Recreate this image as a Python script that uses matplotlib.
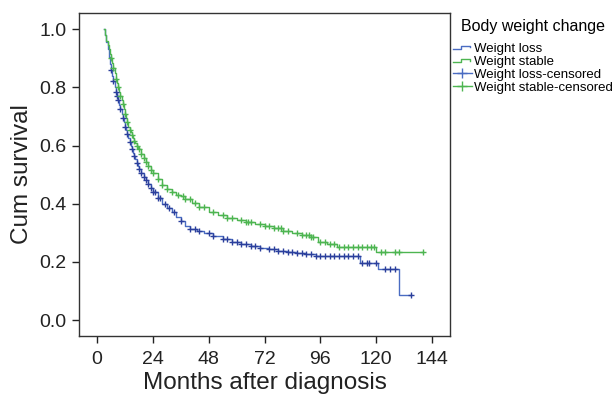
import numpy as np
import matplotlib
matplotlib.use('Agg')
import matplotlib.pyplot as plt
from matplotlib.lines import Line2D
from matplotlib.legend_handler import HandlerBase

plt.rcParams['font.family'] = ['Liberation Sans', 'DejaVu Sans']

# Kaplan-Meier step points (months, cumulative survival)
loss_t = [3, 3.5, 4, 4.5, 5, 5.5, 6, 6.5, 7, 7.5, 8, 8.5, 9, 9.5, 10, 10.5, 11, 11.5, 12,
          12.5, 13, 13.5, 14, 14.5, 15, 15.5, 16, 16.5, 17, 17.5, 18, 19, 20, 21, 22, 23,
          24, 26, 28, 30, 32, 34, 36, 38, 40, 43, 46, 50, 54, 58, 62, 66, 70, 74, 78, 82,
          86, 90, 94, 98, 113, 121, 130, 135]
loss_s = [1.0, 0.98, 0.955, 0.93, 0.905, 0.88, 0.86, 0.84, 0.82, 0.80, 0.785, 0.77, 0.755,
          0.74, 0.725, 0.71, 0.695, 0.68, 0.665, 0.652, 0.64, 0.625, 0.613, 0.60, 0.587,
          0.575, 0.563, 0.552, 0.541, 0.531, 0.521, 0.505, 0.492, 0.48, 0.468, 0.455, 0.44,
          0.42, 0.40, 0.385, 0.37, 0.355, 0.34, 0.325, 0.313, 0.305, 0.30, 0.29, 0.279,
          0.27, 0.262, 0.255, 0.249, 0.244, 0.238, 0.234, 0.23, 0.226, 0.222, 0.219, 0.196,
          0.175, 0.087, 0.087]

stable_t = [3, 3.5, 4, 4.5, 5, 5.5, 6, 6.5, 7, 7.5, 8, 8.5, 9, 9.5, 10, 10.5, 11, 11.5, 12,
            12.5, 13, 13.5, 14, 14.5, 15, 15.5, 16, 16.5, 17, 17.5, 18, 19, 20, 21, 22, 23,
            24, 26, 28, 30, 32, 34, 36, 38, 41, 44, 48, 52, 56, 60, 64, 68, 72, 76, 80, 84,
            88, 92, 95, 99, 103, 120, 140]
stable_s = [1.0, 0.98, 0.96, 0.945, 0.93, 0.915, 0.90, 0.882, 0.865, 0.848, 0.83, 0.815,
            0.80, 0.785, 0.77, 0.757, 0.742, 0.727, 0.71, 0.695, 0.68, 0.665, 0.655, 0.645,
            0.635, 0.625, 0.617, 0.608, 0.60, 0.593, 0.587, 0.572, 0.557, 0.542, 0.528,
            0.515, 0.505, 0.485, 0.465, 0.452, 0.44, 0.43, 0.425, 0.415, 0.402, 0.39, 0.373,
            0.362, 0.352, 0.345, 0.338, 0.33, 0.322, 0.316, 0.308, 0.300, 0.294, 0.286,
            0.27, 0.262, 0.253, 0.234, 0.234]

# censoring times (months)
loss_cens = [6, 7, 8, 8.5, 9, 10, 11, 12, 13, 14, 15, 16, 17, 18, 19, 20, 21, 22, 23, 24,
             25, 26, 27, 29, 31, 33, 36, 40, 42, 44, 48, 50, 54, 56, 58, 60, 62, 64, 66, 68,
             70, 74, 76, 78, 80, 82, 84, 86, 88, 90, 92, 94, 96, 98, 100, 102, 104, 106,
             108, 110, 112, 114, 116, 117, 120, 124, 126, 128, 135]
stable_cens = [6, 7, 8, 9, 10, 11, 12, 13, 14, 15, 16, 17, 18, 19, 20, 21, 22, 23, 24, 26,
               28, 30, 32, 35, 37, 38, 40, 42, 44, 46, 50, 54, 56, 58, 62, 64, 65, 66, 70,
               72, 74, 76, 78, 79, 80, 82, 86, 88, 90, 91, 92, 93, 96, 98, 100, 102, 104,
               106, 108, 110, 112, 114, 116, 118, 119, 122, 124, 128, 130, 140]

line_blue = '#4a6cc2'
mark_blue = '#2b3f9c'
green = '#4db551'


def step_value(t, s, c):
    idx = np.searchsorted(t, c, side='right') - 1
    return np.asarray(s)[idx]


class StepHandler(HandlerBase):
    def create_artists(self, legend, orig_handle, xdescent, ydescent, width, height,
                       fontsize, trans):
        x = np.array([0, 0.45, 0.45, 0.9, 0.9]) * width - xdescent
        y = np.array([0.3, 0.3, 0.65, 0.65, 0.45]) * height - ydescent
        ln = Line2D(x, y, color=orig_handle.get_color(), lw=1.0)
        ln.set_transform(trans)
        return [ln]


fig = plt.figure(figsize=(6.14, 3.97), dpi=100)
ax = fig.add_axes([0.129, 0.154, 0.604, 0.813])

h1, = ax.plot(loss_t, loss_s, drawstyle='steps-post', color=line_blue, lw=1.0)
h2, = ax.plot(stable_t, stable_s, drawstyle='steps-post', color=green, lw=1.0)
h3, = ax.plot(loss_cens, step_value(loss_t, loss_s, loss_cens), ls='none', marker='+',
              ms=4.5, mew=1.0, color=mark_blue)
h4, = ax.plot(stable_cens, step_value(stable_t, stable_s, stable_cens), ls='none',
              marker='+', ms=4.5, mew=1.0, color=green)

ax.set_xlim(-7.7, 151.8)
ax.set_ylim(-0.054, 1.055)
ax.set_xticks(range(0, 145, 24))
ax.set_yticks(np.arange(0, 1.01, 0.2))
ax.set_yticklabels(['%.1f' % v for v in np.arange(0, 1.01, 0.2)])
ax.tick_params(direction='out', length=5, width=1, labelsize=14, colors='#222222')
ax.tick_params(axis='x', pad=6)
ax.tick_params(axis='y', pad=4)
for sp in ax.spines.values():
    sp.set_color('#333333')
    sp.set_linewidth(1.0)
ax.set_xlabel('Months after diagnosis', fontsize=17.5, labelpad=3, color='#222222')
ax.set_ylabel('Cum survival', fontsize=17.5, labelpad=5, color='#222222')

leg_h3 = Line2D([], [], color=line_blue, lw=1.0, marker='+', ms=7, mew=1.0)
leg_h4 = Line2D([], [], color=green, lw=1.0, marker='+', ms=7, mew=1.0)
leg = ax.legend([h1, h2, leg_h3, leg_h4],
                ['Weight loss', 'Weight stable', 'Weight loss-censored',
                 'Weight stable-censored'],
                handler_map={h1: StepHandler(), h2: StepHandler()},
                title='Body weight change', fontsize=9.5, title_fontsize=11.5,
                loc='upper left', bbox_to_anchor=(1.0, 0.99), frameon=False,
                handlelength=1.45, handletextpad=0.2, labelspacing=0.07,
                borderaxespad=0.0, borderpad=0.2)
# gap between legend title and entries
leg._legend_box.sep = 6

plt.savefig('out.png', dpi=100)
